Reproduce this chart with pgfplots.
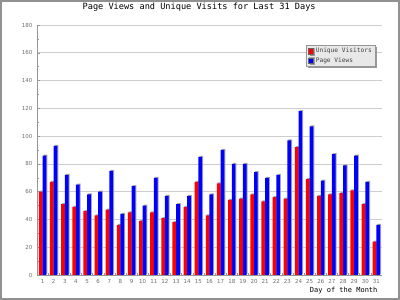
\documentclass[border=0pt]{standalone}
\usepackage{fontspec}
\setmainfont{DejaVu Sans}
\setmonofont{DejaVu Sans Mono}
\usepackage{pgfplots}
\usepackage{pgfplotstable}
\pgfplotsset{compat=1.18}
\usetikzlibrary{shadows}
\definecolor{gridgray}{RGB}{205,205,205}
\definecolor{axisgray}{RGB}{150,150,150}
\definecolor{framegray}{RGB}{145,145,145}
\definecolor{ticktext}{RGB}{110,110,110}
\definecolor{legfill}{RGB}{232,232,232}

\pgfplotstableread{
day uv pv
1 60 86
2 67 93
3 51 72
4 49 65
5 46 58
6 43 60
7 47 75
8 36 44
9 45 64
10 39 50
11 45 70
12 41 57
13 38 51
14 49 57
15 67 85
16 43 58
17 66 90
18 54 80
19 55 80
20 58 74
21 53 70
22 56 72
23 55 97
24 92 118
25 69 107
26 57 68
27 58 87
28 59 79
29 61 86
30 51 67
31 24 36
}\data

\begin{document}
\begin{tikzpicture}[x=1pt,y=1pt]
\useasboundingbox (-37,-25) rectangle (363,275);
\fill[white] (-37,-25) rectangle (363,275);
\draw[framegray, line width=1.6pt] (-36.2,-24.2) rectangle (362.2,274.2);
\begin{axis}[
  at={(0,0)}, anchor=south west,
  scale only axis, width=345pt, height=250pt,
  ybar=0pt, bar width=3.7pt,
  xmin=0.5, xmax=31.5, ymin=0, ymax=180,
  axis lines=left, axis line style={axisgray, line width=0.6pt, -},
  xtick=data,
  minor xtick={1.5,2.5,...,30.5},
  ytick={0,20,...,180}, minor ytick={10,30,...,170},
  tick align=inside,
  major tick length=3pt, minor tick length=1.8pt,
  tick style={axisgray, line width=0.5pt},
  ymajorgrids, grid style={gridgray, line width=0.6pt},
  /pgf/number format/assume math mode=true,
  ticklabel style={font=\fontsize{5.5}{6}\selectfont, text=ticktext},
  yticklabel style={xshift=-1pt},
  xticklabel style={yshift=-1pt},
  xlabel={Day of the Month},
  xlabel style={font=\ttfamily\fontsize{7}{8}\selectfont, at={(0.997,-0.064)}, anchor=east},
  legend style={at={(0.78,0.92)}, anchor=north west, fill=legfill, draw=axisgray,
    font=\ttfamily\fontsize{6.2}{7}\selectfont, text=black!75,
    inner xsep=1.5pt, inner ysep=1pt, row sep=-1pt,
    drop shadow={shadow xshift=1.8pt, shadow yshift=-1.8pt, fill=gray!80, opacity=1}},
  legend cell align=left,
  legend image code/.code={\draw[#1, draw=black!60, line width=0.4pt] (0pt,-2.7pt) rectangle (5.6pt,2.7pt);},
  every axis plot/.append style={draw=none,
    preaction={fill=gray!70, transform canvas={xshift=1pt, yshift=1pt}}},
  clip=false,
]
\addplot[fill=red] table[x=day, y=uv] {\data};
\addplot[fill=blue] table[x=day, y=pv] {\data};
\legend{Unique Visitors, Page Views}
\node[font=\ttfamily\fontsize{8.6}{10}\selectfont, anchor=center] at (rel axis cs:0.47,1.07) {Page Views and Unique Visits for Last 31 Days};
\end{axis}
\end{tikzpicture}
\end{document}
